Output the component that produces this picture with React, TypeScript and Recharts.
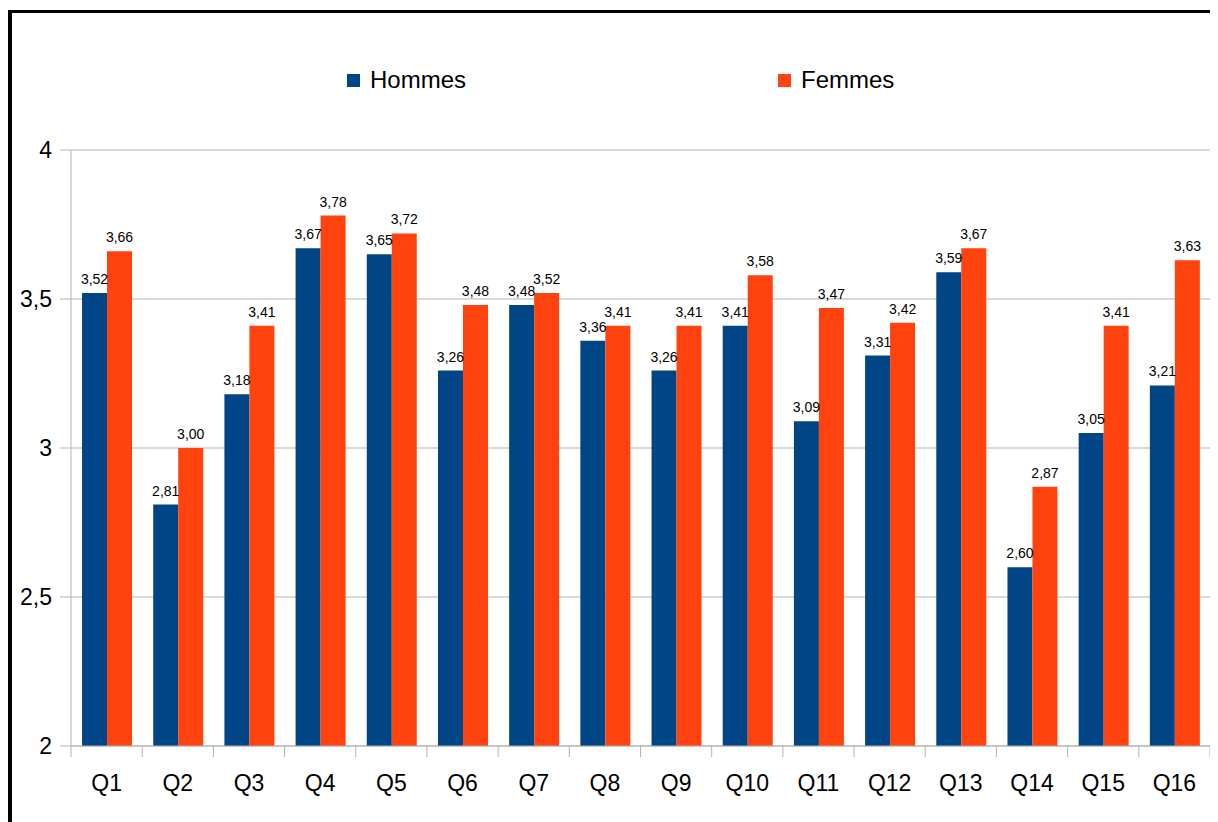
import React from 'react';
import { BarChart, Bar, XAxis, YAxis, CartesianGrid, Legend, LabelList } from 'recharts';

const questions = ['Q1', 'Q2', 'Q3', 'Q4', 'Q5', 'Q6', 'Q7', 'Q8', 'Q9', 'Q10', 'Q11', 'Q12', 'Q13', 'Q14', 'Q15', 'Q16'];
const hommes = [3.52, 2.81, 3.18, 3.67, 3.65, 3.26, 3.48, 3.36, 3.26, 3.41, 3.09, 3.31, 3.59, 2.6, 3.05, 3.21];
const femmes = [3.66, 3.0, 3.41, 3.78, 3.72, 3.48, 3.52, 3.41, 3.41, 3.58, 3.47, 3.42, 3.67, 2.87, 3.41, 3.63];
const yTicks = [2, 2.5, 3, 3.5, 4];

const BLUE = '#004586';
const ORANGE = '#ff420e';
const GRID = '#b3b3b3';
const FONT = '"Liberation Sans", Arial, sans-serif';

const CHART_W = 1204;
const CHART_H = 800;
const MARGIN = { top: 137, right: 6, bottom: 27, left: 0 };
const Y_W = 59;
const BAND = (CHART_W - MARGIN.left - MARGIN.right - Y_W) / questions.length;

const frNum = (v: number) => v.toFixed(2).replace('.', ',');
const frTick = (v: number) => String(v).replace('.', ',');

function XTick(props: any) {
  const { x, y, payload, index } = props;
  const top = y - 29;
  return (
    <g>
      <line x1={x - BAND / 2} x2={x - BAND / 2} y1={top} y2={top + 11} stroke={GRID} />
      {index === questions.length - 1 && (
        <line x1={x + BAND / 2} x2={x + BAND / 2} y1={top} y2={top + 11} stroke={GRID} />
      )}
      <text x={x} y={y} dy="0.71em" textAnchor="middle" fontSize={23} fill="#000" fontFamily={FONT}>
        {payload.value}
      </text>
    </g>
  );
}

function LegendBox() {
  const item = (left: number, color: string, label: string) => (
    <div style={{ position: 'absolute', left, top: 0, display: 'flex', alignItems: 'center' }}>
      <span style={{ display: 'inline-block', width: 13, height: 13, background: color, marginRight: 10 }} />
      <span style={{ fontSize: 24, fontFamily: FONT, color: '#000', lineHeight: '26px' }}>{label}</span>
    </div>
  );
  return (
    <div style={{ position: 'relative', width: CHART_W, height: 26 }}>
      {item(335, BLUE, 'Hommes')}
      {item(766, ORANGE, 'Femmes')}
    </div>
  );
}

export default function App() {
  const data = questions.map((q, i) => ({ name: q, Hommes: hommes[i], Femmes: femmes[i] }));

  return (
    <div style={{ paddingTop: 2 }}>
      <style>{'html,body{overflow:hidden}'}</style>
      <div style={{ borderTop: '3px solid #000', borderLeft: '4px solid #000', width: CHART_W, height: CHART_H + 20, background: '#fff' }}>
        <BarChart
          width={CHART_W}
          height={CHART_H}
          data={data}
          margin={MARGIN}
          barCategoryGap="15.5%"
          barGap={0}
          style={{ fontFamily: FONT }}
        >
          <CartesianGrid vertical={false} stroke={GRID} />
          <XAxis
            dataKey="name"
            axisLine={{ stroke: GRID }}
            tickLine={false}
            tickSize={11}
            tickMargin={18}
            height={40}
            interval={0}
            tick={<XTick />}
          />
          <YAxis
            domain={[2, 4]}
            ticks={yTicks}
            width={Y_W}
            axisLine={{ stroke: GRID }}
            tickLine={{ stroke: GRID }}
            tickSize={11}
            tickMargin={8}
            tickFormatter={frTick}
            tick={{ fontSize: 23, fill: '#000', fontFamily: FONT }}
          />
          <YAxis
            yAxisId="right"
            orientation="right"
            domain={[2, 4]}
            width={0}
            tick={false}
            tickLine={false}
            axisLine={{ stroke: GRID }}
          />
          <Legend
            layout="horizontal"
            verticalAlign="middle"
            align="center"
            wrapperStyle={{ top: 54, left: 0, width: CHART_W }}
            content={() => <LegendBox />}
          />
          <Bar dataKey="Hommes" fill={BLUE} isAnimationActive={false}>
            <LabelList dataKey="Hommes" position="top" offset={9} formatter={(v: any) => frNum(Number(v))} style={{ fontSize: 14, fill: '#000', fontFamily: FONT }} />
          </Bar>
          <Bar dataKey="Femmes" fill={ORANGE} isAnimationActive={false}>
            <LabelList dataKey="Femmes" position="top" offset={9} formatter={(v: any) => frNum(Number(v))} style={{ fontSize: 14, fill: '#000', fontFamily: FONT }} />
          </Bar>
        </BarChart>
      </div>
    </div>
  );
}
